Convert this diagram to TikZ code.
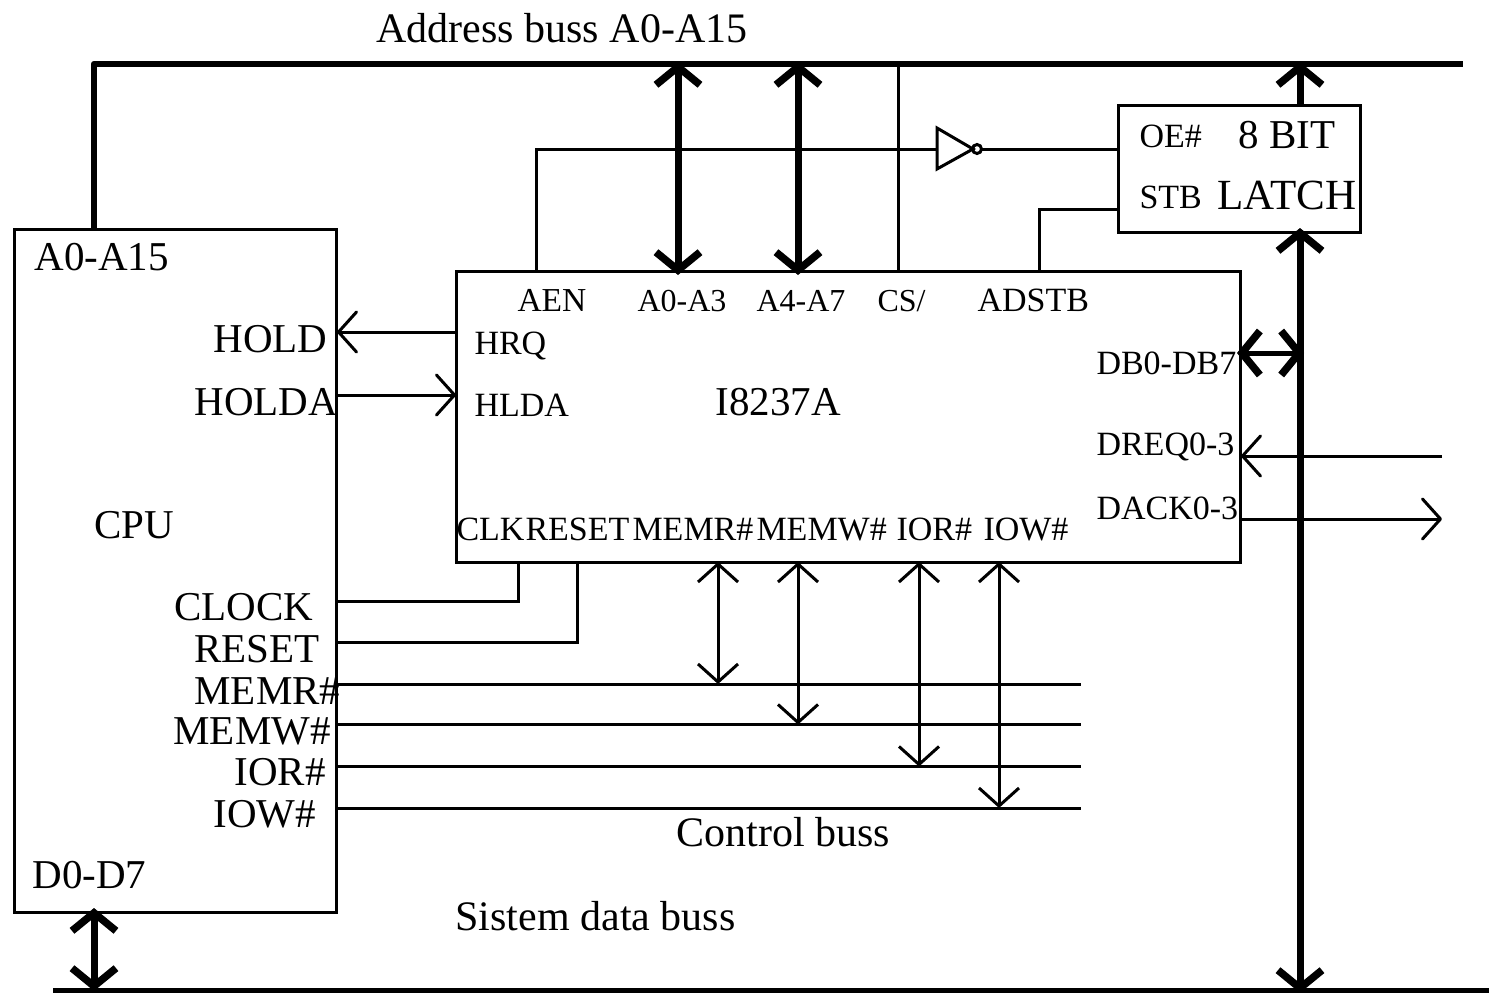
\documentclass[tikz,border=0pt]{standalone}
\usepackage{fontspec}
\setmainfont{Liberation Serif}
\usetikzlibrary{arrows.meta}
\tikzset{
 thin line/.style={line width=3pt,line cap=butt},
 thick line/.style={line width=6.5pt,line join=round},
 lab/.style={inner sep=0pt,anchor=base west,font=\fontsize{34}{34}\selectfont},
 narrow lab/.style={lab,font=\fontsize{32}{32}\selectfont},
 big/.style={lab,font=\fontsize{41}{41}\selectfont},
 huge lab/.style={lab,font=\fontsize{42}{42}\selectfont},
 v/.style={line width=3pt,-{Straight Barb[length=18pt,width=40pt,line width=3pt,round=false]}},
 vv/.style={line width=3pt,{Straight Barb[length=18pt,width=40pt,line width=3pt]}-{Straight Barb[length=18pt,width=40pt,line width=3pt]}},
 T/.style={line width=7pt,{Straight Barb[length=18pt,width=44pt,line width=7.5pt]}-{Straight Barb[length=18pt,width=44pt,line width=7.5pt]}},
 Tr/.style={line width=7pt,-{Straight Barb[length=18pt,width=44pt,line width=7.5pt]}},
 Td/.style={line width=5pt,{Straight Barb[length=18pt,width=44pt,line width=7.5pt]}-{Straight Barb[length=18pt,width=44pt,line width=7.5pt]}},
}
\begin{document}
\begin{tikzpicture}[x=1pt,y=-1pt,line width=3pt]
\useasboundingbox (0,0) rectangle (1489,993);
\fill[white] (0,0) rectangle (1489,993);
% boxes
\draw[thin line] (14,229) rectangle (336.5,912);
\coordinate (cpuT) at (94,229);
\coordinate (cpuB) at (94,912);
\draw[thin line] (456,271) rectangle (1240.5,562);
\draw[thin line] (1118,105) rectangle (1360.5,232);
% address bus
\coordinate (abL) at (94,64);
\coordinate (abR) at (1463,64);
\draw[thick line] (cpuT) -- (abL) -- (abR);
% data bus
\coordinate (dbL) at (53,991);
\coordinate (dbR) at (1489,991);
\draw[thick line] (dbL) -- (dbR);
\draw[T] (94,908) -- (94,991);
% I8237 - address
\draw[T] (678,62) -- (678,275);
\draw[T] (798,62) -- (798,275);
\draw[thin line] (898,64) -- (898,271);
% latch
\draw[Tr] (1300,107) -- (1300,62);
\draw[T] (1300,228) -- (1300,993);
\draw[Td] (1237,353) -- (1304,353);
% AEN inverter
\draw[thin line] (536.5,271) -- (536.5,149) -- (937,149);
\draw[thin line] (937,128) -- (937,169) -- (973,149) -- cycle;
\draw[thin line] (977,149) circle (4.5);
\draw[thin line] (982,149) -- (1118,149);
\draw[thin line] (1039,271) -- (1039,209) -- (1118,209);
% HOLD
\draw[v] (456,332) -- (337,332);
\draw[v] (337,395) -- (456,395);
% DREQ
\draw[v] (1442,456) -- (1241,456);
\draw[v] (1241,519) -- (1442,519);
% clock reset
\draw[thin line] (337,601) -- (518,601) -- (518,562);
\draw[thin line] (337,642) -- (577,642) -- (577,562);
% control bus
\draw[thin line] (337,684) -- (1081,684);
\draw[thin line] (337,724.5) -- (1081,724.5);
\draw[thin line] (337,766.5) -- (1081,766.5);
\draw[thin line] (337,808) -- (1081,808);
\draw[vv] (718,562) -- (718,684);
\draw[vv] (798,562) -- (798,724.5);
\draw[vv] (919,562) -- (919,766.5);
\draw[vv] (999,562) -- (999,808);
% labels
\begin{scope}[xshift=-2pt]
\node[huge lab] at (377,42) {Address buss A0-A15};
\node[big] at (35,270) {A0-A15};
\node[big] at (214,352) {HOLD};
\node[big] at (195,415) {HOLDA};
\node[big] at (95,538) {CPU};
\node[big] at (175,620) {CLOCK};
\node[big] at (195,662) {RESET};
\node[big] at (195,704) {MEMR\#};
\node[big] at (174,744) {MEMW\#};
\node[big] at (235,785) {IOR\#};
\node[big] at (214,827) {IOW\#};
\node[big] at (33,888) {D0-D7};
\node[huge lab] at (677,846) {Control buss};
\node[huge lab] at (456,930) {Sistem data buss};
\node[lab,font=\fontsize{33.5}{33.5}\selectfont] at (518,311) {AEN};
\node[narrow lab] at (638,311) {A0-A3};
\node[narrow lab] at (757,311) {A4-A7};
\node[narrow lab] at (878,311) {CS/};
\node[lab] at (978,311) {ADSTB};
\node[lab] at (475,354) {HRQ};
\node[lab] at (475,416) {HLDA};
\node[big] at (716,415) {I8237A};
\node[lab] at (1097,374) {DB0-DB7};
\node[lab] at (1097,455) {DREQ0-3};
\node[lab] at (1097,519) {DACK0-3};
\node[lab] at (457,540) {CLK};
\node[lab] at (526,540) {RESET};
\node[lab] at (633,540) {MEMR\#};
\node[lab] at (757,540) {MEMW\#};
\node[lab] at (897,540) {IOR\#};
\node[lab] at (984,540) {IOW\#};
\node[lab] at (1140,147) {OE\#};
\node[lab] at (1140,208) {STB};
\node[big] at (1239,148) {8 BIT};
\node[lab,font=\fontsize{43}{43}\selectfont] at (1218,209) {LATCH};
\end{scope}
\end{tikzpicture}
\end{document}
